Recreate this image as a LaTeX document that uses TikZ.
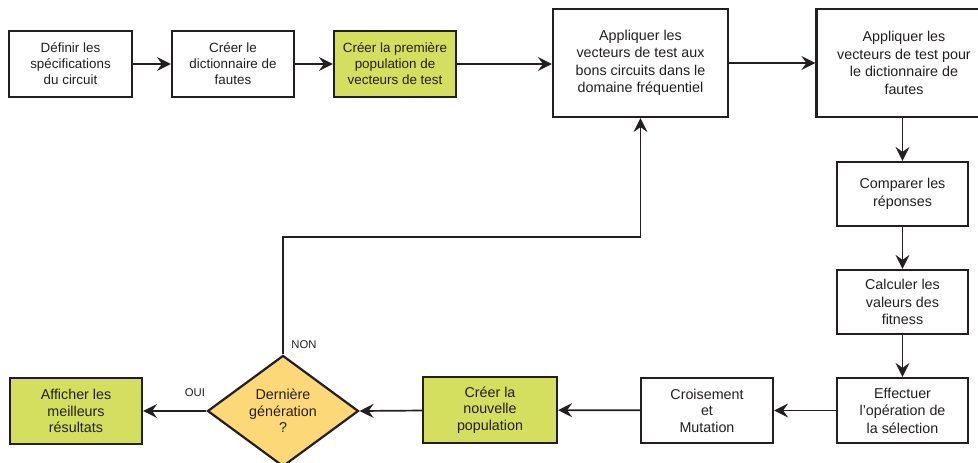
\documentclass[tikz,border=0pt]{standalone}
\usepackage{fontspec}
\setmainfont{Liberation Sans}
\usetikzlibrary{shapes.geometric,arrows.meta}
\definecolor{ink}{HTML}{231F20}
\definecolor{boxgreen}{HTML}{D4DE5F}
\definecolor{diayellow}{HTML}{FDD878}
\begin{document}
\begin{tikzpicture}[x=1pt,y=-1pt,
  proc/.style={draw=ink,line width=2.2pt,fill=white,align=center,inner sep=0pt,text=ink},
  toprow/.style={proc,minimum width=123pt,minimum height=66pt,font=\fontsize{13.4}{16}\selectfont},
  bigbox/.style={proc,minimum width=175pt,minimum height=108pt,font=\fontsize{14.3}{17.5}\selectfont},
  colbox/.style={proc,minimum width=131pt,minimum height=64pt,font=\fontsize{14.3}{17.5}\selectfont},
  botbox/.style={proc,minimum width=133pt,minimum height=66pt,font=\fontsize{14.3}{16.5}\selectfont},
  hl/.style={fill=boxgreen},
  decision/.style={diamond,draw=ink,line width=2.2pt,fill=diayellow,align=center,inner sep=0pt,
     minimum width=151pt,minimum height=108pt,text=ink,font=\fontsize{14.3}{16.5}\selectfont},
  conn/.style={draw=ink,line width=1.7pt,-{Stealth[length=14pt,width=14pt,inset=5pt]}},
  back/.style={draw=ink,line width=1.2pt,-{Stealth[length=14pt,width=14pt,inset=5pt]}},
  lbl/.style={text=ink,font=\fontsize{11.3}{13}\selectfont,inner sep=0pt}]
\useasboundingbox (0,0) rectangle (978,463);
\clip (0,0) rectangle (978,463);
\node[toprow] (b1) at (70.5,64) {Définir les\\spécifications\\du circuit};
\node[toprow,minimum width=122pt] (b2) at (233,64) {Créer le\\dictionnaire de\\fautes};
\node[toprow,hl,minimum width=122pt] (b3) at (395,64) {Créer la première\\population de\\vecteurs de test};
\node[bigbox] (b4) at (640.5,63) {Appliquer les\\vecteurs de test aux\\bons circuits dans le\\domaine fréquentiel};
\node[bigbox] (b5) at (904,63) {Appliquer les\\vecteurs de test pour\\le dictionnaire de\\fautes};
\node[colbox] (c1) at (902.5,194) {Comparer les\\réponses};
\node[colbox] (c2) at (902.5,302) {Calculer les\\valeurs des\\fitness};
\node[colbox,minimum height=65pt] (c3) at (902.5,410.5) {Effectuer\\l’opération de\\la sélection};
\node[botbox,minimum width=132pt,minimum height=65pt] (c4) at (707,410.5) {Croisement\\et\\Mutation};
\node[botbox,hl,minimum width=134pt] (c5) at (490,410) {Créer la\\nouvelle\\population};
\node[decision] (d) at (283,411) {Dernière\\génération\\?};
\node[botbox,hl,minimum width=132pt] (c6) at (76,411) {Afficher les\\meilleurs\\résultats};
\coordinate (turnL) at (283,237);
\draw[conn] (b1) -- (b2);
\draw[conn] (b2) -- (b3);
\draw[conn] (b3.east) -- (b3.east -| b4.west);
\draw[conn] (b4) -- (b5.west |- b4.east);
\draw[conn] (b5.south -| c1.north) -- (c1.north);
\draw[conn] (c1) -- (c2);
\draw[conn] (c2) -- (c3);
\draw[conn] (c3) -- (c4);
\draw[conn] (c4) -- (c5);
\draw[conn] (c5) -- (d.east);
\draw[conn] (d.west) -- (c6.east);
\draw[back] (d.north) -- (turnL) -| (b4.south);
\node[lbl] (non) at (304,345) {NON};
\node[lbl] (oui) at (195,393) {OUI};
\end{tikzpicture}
\end{document}
